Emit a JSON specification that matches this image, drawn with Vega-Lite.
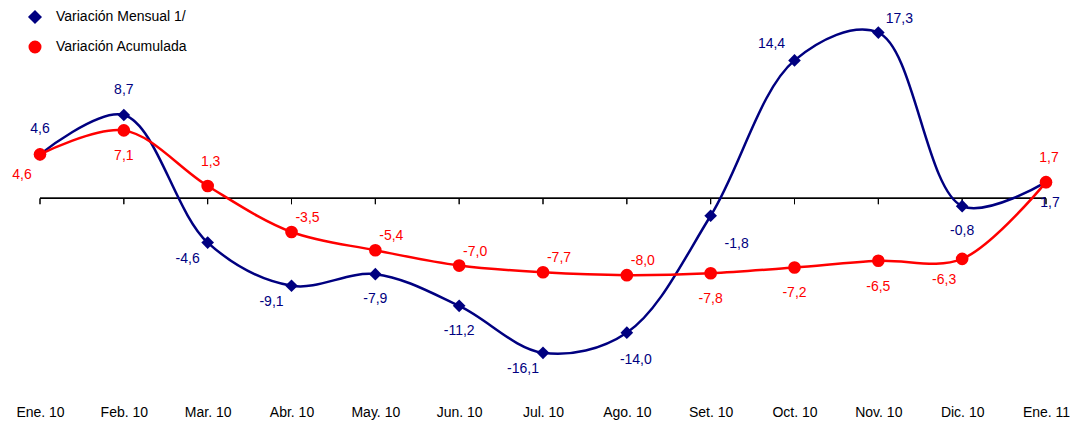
{
  "$schema": "https://vega.github.io/schema/vega-lite/v6.json",
  "width": 1006,
  "height": 395,
  "autosize": "none",
  "padding": {"left": 40, "right": 29, "top": 0, "bottom": 26},
  "config": {"view": {"stroke": null}, "font": "Liberation Sans",
    "locale": {"number": {"decimal": ",", "thousands": ".", "grouping": [3], "currency": ["", ""], "minus": "-"}}},
  "data": {"values": [
    {"mes": "Ene. 10", "serie": "Variación Mensual 1/", "valor": 4.6},
    {"mes": "Feb. 10", "serie": "Variación Mensual 1/", "valor": 8.7},
    {"mes": "Mar. 10", "serie": "Variación Mensual 1/", "valor": -4.6},
    {"mes": "Abr. 10", "serie": "Variación Mensual 1/", "valor": -9.1},
    {"mes": "May. 10", "serie": "Variación Mensual 1/", "valor": -7.9},
    {"mes": "Jun. 10", "serie": "Variación Mensual 1/", "valor": -11.2},
    {"mes": "Jul. 10", "serie": "Variación Mensual 1/", "valor": -16.1},
    {"mes": "Ago. 10", "serie": "Variación Mensual 1/", "valor": -14.0},
    {"mes": "Set. 10", "serie": "Variación Mensual 1/", "valor": -1.8},
    {"mes": "Oct. 10", "serie": "Variación Mensual 1/", "valor": 14.4},
    {"mes": "Nov. 10", "serie": "Variación Mensual 1/", "valor": 17.3},
    {"mes": "Dic. 10", "serie": "Variación Mensual 1/", "valor": -0.8},
    {"mes": "Ene. 11", "serie": "Variación Mensual 1/", "valor": 1.7},
    {"mes": "Ene. 10", "serie": "Variación Acumulada", "valor": 4.6},
    {"mes": "Feb. 10", "serie": "Variación Acumulada", "valor": 7.1},
    {"mes": "Mar. 10", "serie": "Variación Acumulada", "valor": 1.3},
    {"mes": "Abr. 10", "serie": "Variación Acumulada", "valor": -3.5},
    {"mes": "May. 10", "serie": "Variación Acumulada", "valor": -5.4},
    {"mes": "Jun. 10", "serie": "Variación Acumulada", "valor": -7.0},
    {"mes": "Jul. 10", "serie": "Variación Acumulada", "valor": -7.7},
    {"mes": "Ago. 10", "serie": "Variación Acumulada", "valor": -8.0},
    {"mes": "Set. 10", "serie": "Variación Acumulada", "valor": -7.8},
    {"mes": "Oct. 10", "serie": "Variación Acumulada", "valor": -7.2},
    {"mes": "Nov. 10", "serie": "Variación Acumulada", "valor": -6.5},
    {"mes": "Dic. 10", "serie": "Variación Acumulada", "valor": -6.3},
    {"mes": "Ene. 11", "serie": "Variación Acumulada", "valor": 1.7}
  ]},
  "encoding": {
    "x": {"field": "mes", "type": "ordinal", "sort": null,
      "scale": {"type": "point", "padding": 0},
      "axis": {"title": null, "labelAngle": 0, "domain": false, "ticks": false, "labelFontSize": 14, "labelPadding": 10, "labelColor": "black", "labelFont": "Liberation Sans"}},
    "y": {"field": "valor", "type": "quantitative", "scale": {"domain": [-20.5, 20.7]}, "axis": null}
  },
  "layer": [
    {"mark": {"type": "rule", "color": "black", "strokeWidth": 1}, "encoding": {"x": null, "y": {"datum": 0}}},
    {"mark": {"type": "rule", "color": "black", "strokeWidth": 1}, "encoding": {"y": {"datum": 0}, "y2": {"datum": -0.6}}},
    {"mark": {"type": "line", "interpolate": "catmull-rom", "strokeWidth": 2.5},
      "encoding": {"color": {"field": "serie", "type": "nominal",
        "scale": {"domain": ["Variación Mensual 1/", "Variación Acumulada"], "range": ["#000080", "#FF0000"]},
        "legend": {"title": null, "orient": "none", "legendX": -12, "legendY": 10, "labelFontSize": 14, "labelFont": "Liberation Sans", "labelColor": "black", "labelOffset": 14, "symbolSize": 110, "symbolStrokeWidth": 2.5, "rowPadding": 8}}}},
    {"mark": {"type": "point", "filled": true, "size": 160, "opacity": 1},
      "encoding": {
        "color": {"field": "serie", "type": "nominal"},
        "shape": {"field": "serie", "type": "nominal",
          "scale": {"domain": ["Variación Mensual 1/", "Variación Acumulada"], "range": ["diamond", "circle"]}}}},
    {"transform": [{"filter": "datum.serie == 'Variación Mensual 1/' && indexof(['Ene. 10','Feb. 10'], datum.mes) >= 0"}],
      "mark": {"type": "text", "color": "#000080", "fontSize": 14, "dy": -25}, "encoding": {"text": {"field": "valor", "format": ".1f"}}},
    {"transform": [{"filter": "datum.serie == 'Variación Mensual 1/' && indexof(['May. 10','Jun. 10','Dic. 10'], datum.mes) >= 0"}],
      "mark": {"type": "text", "color": "#000080", "fontSize": 14, "dy": 25}, "encoding": {"text": {"field": "valor", "format": ".1f"}}},
    {"transform": [{"filter": "datum.serie == 'Variación Mensual 1/' && indexof(['Ago. 10'], datum.mes) >= 0"}],
      "mark": {"type": "text", "color": "#000080", "fontSize": 14, "dx": 9, "dy": 27}, "encoding": {"text": {"field": "valor", "format": ".1f"}}},
    {"transform": [{"filter": "datum.serie == 'Variación Mensual 1/' && indexof(['Mar. 10','Abr. 10','Jul. 10'], datum.mes) >= 0"}],
      "mark": {"type": "text", "color": "#000080", "fontSize": 14, "dx": -20, "dy": 16}, "encoding": {"text": {"field": "valor", "format": ".1f"}}},
    {"transform": [{"filter": "datum.serie == 'Variación Mensual 1/' && datum.mes == 'Set. 10'"}],
      "mark": {"type": "text", "color": "#000080", "fontSize": 14, "dx": 26, "dy": 28}, "encoding": {"text": {"field": "valor", "format": ".1f"}}},
    {"transform": [{"filter": "datum.serie == 'Variación Mensual 1/' && datum.mes == 'Oct. 10'"}],
      "mark": {"type": "text", "color": "#000080", "fontSize": 14, "dx": -23, "dy": -16}, "encoding": {"text": {"field": "valor", "format": ".1f"}}},
    {"transform": [{"filter": "datum.serie == 'Variación Mensual 1/' && datum.mes == 'Nov. 10'"}],
      "mark": {"type": "text", "color": "#000080", "fontSize": 14, "dx": 21, "dy": -14}, "encoding": {"text": {"field": "valor", "format": ".1f"}}},
    {"transform": [{"filter": "datum.serie == 'Variación Mensual 1/' && datum.mes == 'Ene. 11'"}],
      "mark": {"type": "text", "color": "#000080", "fontSize": 14, "dx": 4, "dy": 21}, "encoding": {"text": {"field": "valor", "format": ".1f"}}},
    {"transform": [{"filter": "datum.serie == 'Variación Acumulada' && indexof(['Abr. 10','May. 10','Jun. 10','Jul. 10','Ago. 10'], datum.mes) >= 0"}],
      "mark": {"type": "text", "color": "#FF0000", "fontSize": 14, "dx": 16, "dy": -14}, "encoding": {"text": {"field": "valor", "format": ".1f"}}},
    {"transform": [{"filter": "datum.serie == 'Variación Acumulada' && indexof(['Feb. 10','Set. 10','Oct. 10','Nov. 10'], datum.mes) >= 0"}],
      "mark": {"type": "text", "color": "#FF0000", "fontSize": 14, "dy": 26}, "encoding": {"text": {"field": "valor", "format": ".1f"}}},
    {"transform": [{"filter": "datum.serie == 'Variación Acumulada' && indexof(['Mar. 10','Ene. 11'], datum.mes) >= 0"}],
      "mark": {"type": "text", "color": "#FF0000", "fontSize": 14, "dx": 3, "dy": -24}, "encoding": {"text": {"field": "valor", "format": ".1f"}}},
    {"transform": [{"filter": "datum.serie == 'Variación Acumulada' && indexof(['Ene. 10','Dic. 10'], datum.mes) >= 0"}],
      "mark": {"type": "text", "color": "#FF0000", "fontSize": 14, "dx": -18, "dy": 21}, "encoding": {"text": {"field": "valor", "format": ".1f"}}}
  ]
}
